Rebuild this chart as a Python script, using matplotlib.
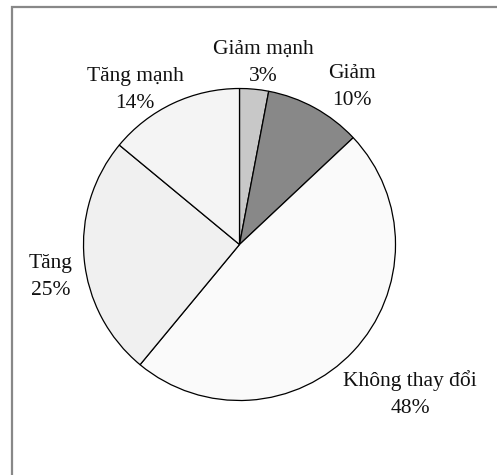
import matplotlib.pyplot as plt

labels = ["Giảm mạnh", "Giảm", "Không thay đổi", "Tăng", "Tăng mạnh"]
shares = [3, 10, 48, 25, 14]
colors = ["#c8c8c8", "#888888", "#fafafa", "#f0f0f0", "#f4f4f4"]

# label centres in pixel coords (x, y from top)
label_pos = [(263, 63), (352, 87), (410, 394), (51, 277), (135, 90)]

W, H = 497, 475
fig = plt.figure(figsize=(W / 100, H / 100), dpi=100)
ax = fig.add_axes([0, 0, 1, 1])

ax.pie(shares, colors=colors, startangle=90, counterclock=False,
       center=(239.5, H - 244.5), radius=156, frame=True,
       wedgeprops=dict(edgecolor="black", linewidth=0.9))
ax.set_xlim(0, W)
ax.set_ylim(0, H)
ax.axis("off")

# frame: only left and top edges show, the rest runs off the image
ax.plot([12, 12, W + 5], [-5, H - 7, H - 7], color="#888888",
        linewidth=1.6, solid_joinstyle="miter")

for lab, val, (x, y) in zip(labels, shares, label_pos):
    ax.text(x, H - y, f"{lab}\n{val}%", ha="center", va="center",
            family="Liberation Serif", fontsize=15.5, linespacing=1.6,
            color="#111111")

fig.savefig("out.png", dpi=100)
